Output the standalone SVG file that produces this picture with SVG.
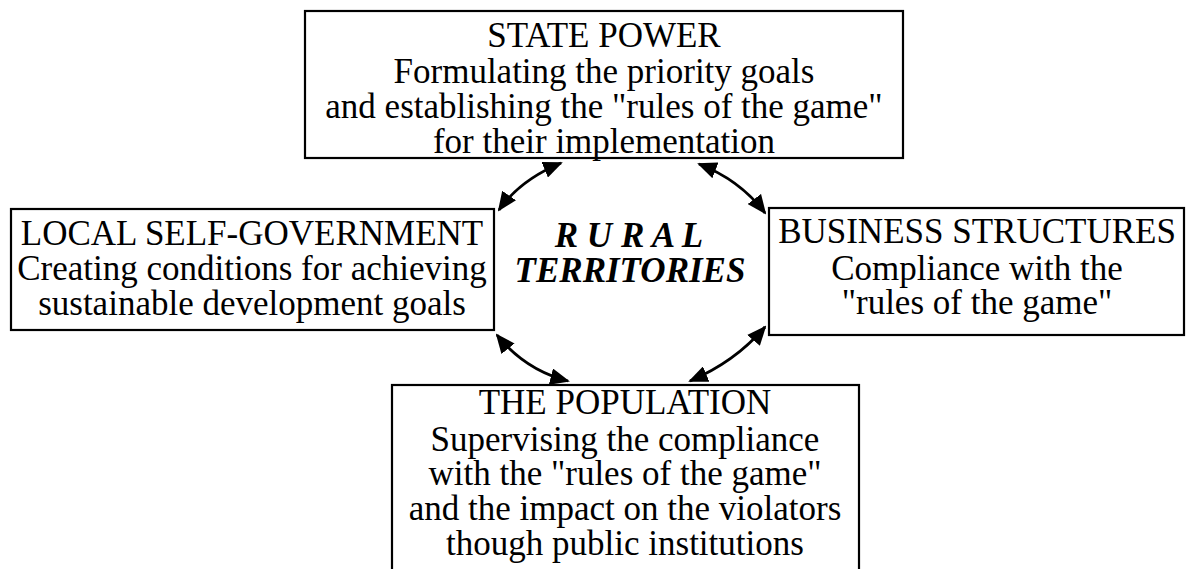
<svg xmlns="http://www.w3.org/2000/svg" width="1186" height="569" viewBox="0 0 1186 569">
<style>
.box{fill:#fff;stroke:#000;stroke-width:2.2}
.t{font-family:"Liberation Serif","Times New Roman",serif;font-size:35px;fill:#000;text-anchor:middle}
.c{font-family:"Liberation Serif","Times New Roman",serif;font-size:35px;font-weight:bold;font-style:italic;fill:#000;text-anchor:middle}
.arr{fill:none;stroke:#000;stroke-width:2.8;marker-start:url(#ah);marker-end:url(#ah)}
</style>
<defs>
<marker id="ah" viewBox="0 0 10 10" refX="9" refY="5" markerWidth="7" markerHeight="6" markerUnits="strokeWidth" orient="auto-start-reverse" preserveAspectRatio="none">
<path d="M0,0 L10,5 L0,10 Z" fill="#000"/>
</marker>
</defs>
<rect width="1186" height="569" fill="#fff"/>
<g id="state-power">
<rect class="box" x="305" y="11" width="598" height="147"/>
<text class="t" x="604" y="47">STATE POWER</text>
<text class="t" x="604" y="83">Formulating the priority goals</text>
<text class="t" x="604" y="118">and establishing the "rules of the game"</text>
<text class="t" x="604" y="153">for their implementation</text>
</g>
<g id="local-self-government">
<rect class="box" x="11" y="209" width="483" height="121"/>
<text class="t" x="252" y="245">LOCAL SELF-GOVERNMENT</text>
<text class="t" x="252" y="280">Creating conditions for achieving</text>
<text class="t" x="252" y="315">sustainable development goals</text>
</g>
<g id="business-structures">
<rect class="box" x="769" y="208" width="415" height="127"/>
<text class="t" x="977" y="243">BUSINESS STRUCTURES</text>
<text class="t" x="977" y="280">Compliance with the</text>
<text class="t" x="977" y="314">"rules of the game"</text>
</g>
<g id="population">
<rect class="box" x="392" y="385" width="467" height="200"/>
<text class="t" x="625" y="414">THE POPULATION</text>
<text class="t" x="625" y="451">Supervising the compliance</text>
<text class="t" x="625" y="485">with the "rules of the game"</text>
<text class="t" x="625" y="520">and the impact on the violators</text>
<text class="t" x="625" y="555">though public institutions</text>
</g>
<g id="rural-territories">
<text class="c" x="629" y="247">R U R A L</text>
<text class="c" x="630" y="282">TERRITORIES</text>
</g>
<g id="connectors">
<path class="arr" d="M499,210 Q520,180 561,163"/>
<path class="arr" d="M699,164 Q740,180 765,213"/>
<path class="arr" d="M497,335 Q525,370 568,381"/>
<path class="arr" d="M690,381 Q735,362 765,327"/>
</g>
</svg>
